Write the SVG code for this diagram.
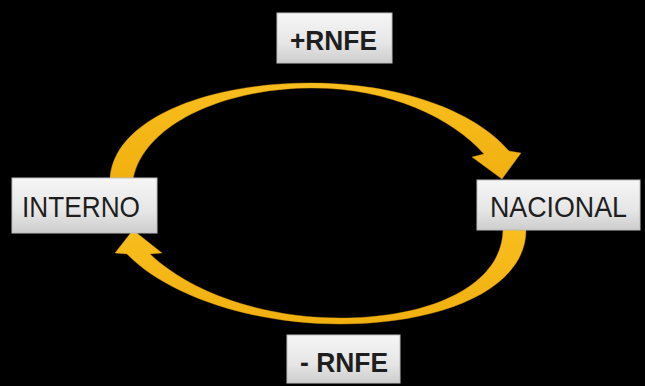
<svg xmlns="http://www.w3.org/2000/svg" width="645" height="386" viewBox="0 0 645 386">
  <defs>
    <linearGradient id="boxFill" x1="0" y1="0" x2="0" y2="1">
      <stop offset="0" stop-color="#f6f6f6"/>
      <stop offset="0.6" stop-color="#e6e6e6"/>
      <stop offset="1" stop-color="#cdcdcd"/>
    </linearGradient>
    <linearGradient id="arrowFill" x1="0" y1="0" x2="0" y2="1">
      <stop offset="0" stop-color="#f8be1d"/>
      <stop offset="1" stop-color="#f0b010"/>
    </linearGradient>
    <style>
      .box { fill: url(#boxFill); stroke: #bdbdbd; stroke-width: 1; }
      .label { font-family: "Liberation Sans", Arial, sans-serif; font-size: 30px; fill: #1e1e1e; }
      .bold { font-weight: bold; font-size: 28px; }
      .arrow { fill: url(#arrowFill); stroke: #d99a08; stroke-width: 0.4; }
    </style>
  </defs>

  <rect width="645" height="386" fill="#000"/>

  <g id="connectors">
    <!-- upper arc: INTERNO to NACIONAL -->
    <path class="arrow" d="M110,180 C112,120 205,83 310,83 C398,83 474,110 509,151 L521,153 L502,179 L472,157 L484,154 C452,118 390,88 312,88 C222,88 142,126 133,180 Z"/>
    <!-- lower arc: NACIONAL back to INTERNO -->
    <path class="arrow" d="M526,230 C526,290 440,324 340,324 C252,324 168,296 127,254 L115,253 L133,230 L162,253 L150,254 C190,292 262,318 340,318 C432,318 502,285 503,230 Z"/>
  </g>

  <g id="node-plus-rnfe">
    <rect class="box" x="277" y="13" width="115" height="50"/>
    <text class="label bold" x="290" y="50" textLength="87" lengthAdjust="spacingAndGlyphs">+RNFE</text>
  </g>

  <g id="node-interno">
    <rect class="box" x="12" y="178" width="145" height="55"/>
    <text class="label" x="22" y="217" textLength="118" lengthAdjust="spacingAndGlyphs">INTERNO</text>
  </g>

  <g id="node-nacional">
    <rect class="box" x="477" y="180" width="163" height="50"/>
    <text class="label" x="490" y="217" textLength="137" lengthAdjust="spacingAndGlyphs">NACIONAL</text>
  </g>

  <g id="node-minus-rnfe">
    <rect class="box" x="287" y="335" width="113" height="48"/>
    <text class="label bold" x="300" y="372" textLength="88" lengthAdjust="spacingAndGlyphs">- RNFE</text>
  </g>
</svg>
